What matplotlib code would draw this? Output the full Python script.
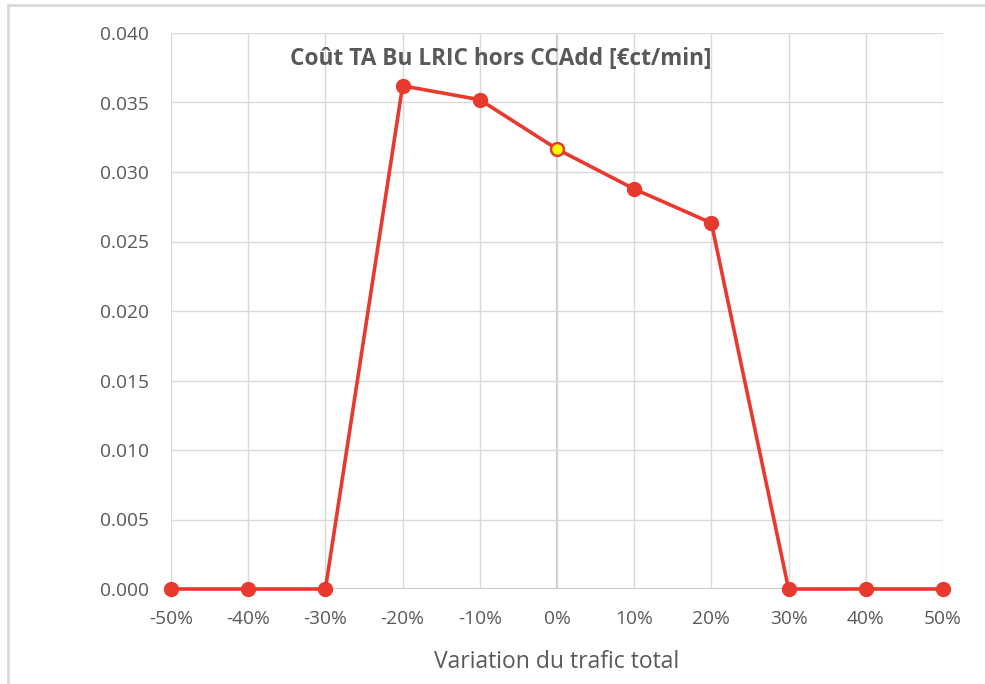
import matplotlib
matplotlib.use("Agg")
import matplotlib.pyplot as plt
from matplotlib.lines import Line2D

categories = [-50, -40, -30, -20, -10, 0, 10, 20, 30, 40, 50]
values = [0.0, 0.0, 0.0, 0.0362, 0.0352, 0.03165, 0.02878, 0.02633, 0.0, 0.0, 0.0]
tick_labels = [f"{c}%" for c in categories]
y_ticks = [0.000, 0.005, 0.010, 0.015, 0.020, 0.025, 0.030, 0.035, 0.040]
highlight = 0
title = "Coût TA Bu LRIC hors CCAdd [€ct/min]"
xlabel = "Variation du trafic total"

plt.rcParams['font.family'] = ['Open Sans', 'DejaVu Sans']
text_col = "#595959"
red = "#E8392F"

fig = plt.figure(figsize=(9.85, 6.84), dpi=100)
ax = fig.add_axes([171/985, 1 - 589/684, (943-171)/985, (589-33)/684])

ax.plot(categories, values, color=red, lw=2.6, marker='o', ms=10,
        markerfacecolor=red, markeredgecolor=red, zorder=3, clip_on=False)
hi = categories.index(highlight)
ax.plot([categories[hi]], [values[hi]], marker='o', ms=9, markerfacecolor="#FFFF00",
        markeredgecolor=red, markeredgewidth=1.5, zorder=4, clip_on=False)

ax.set_xlim(-50, 50)
ax.set_ylim(0, 0.040)
ax.set_xticks(categories)
ax.set_xticklabels(tick_labels)
ax.set_yticks(y_ticks)
ax.set_yticklabels([f"{v:.3f}" for v in y_ticks])
ax.grid(True, color="#D9D9D9", lw=1)
ax.axvline(0, color="#BFBFBF", lw=1.2, zorder=1)
for s in ax.spines.values():
    s.set_visible(False)
ax.axhline(0, color="#BFBFBF", lw=1.2, zorder=1)
ax.tick_params(length=0, labelsize=13.8, colors=text_col)
ax.tick_params(axis='x', pad=15)
ax.tick_params(axis='y', pad=16)
ax.set_xlabel(xlabel, fontsize=16.5, color=text_col, labelpad=16)
ax.text((501-171)/772, 0.954, title, transform=ax.transAxes, ha='center', va='center',
        fontsize=16.3, fontweight='bold', color=text_col)

# outer frame lines (top and left)
fig.add_artist(Line2D([8/985, 1], [1 - 5/684, 1 - 5/684], color="#D9D9D9", lw=2, transform=fig.transFigure))
fig.add_artist(Line2D([8/985, 8/985], [0, 1 - 5/684], color="#D9D9D9", lw=2, transform=fig.transFigure))

fig.savefig("out.png", dpi=100)
